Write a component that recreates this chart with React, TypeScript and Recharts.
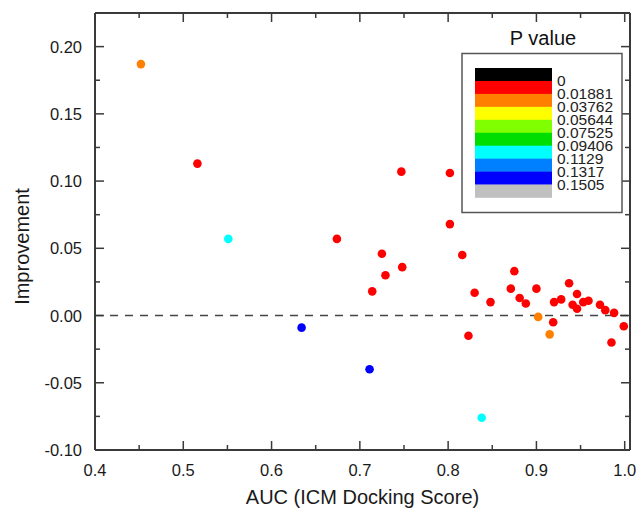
import { ScatterChart, Scatter, XAxis, YAxis, ReferenceLine } from 'recharts';

// AUC vs improvement, grouped by P value colour
const redPoints = [
  { auc: 0.516, imp: 0.113 },
  { auc: 0.674, imp: 0.057 },
  { auc: 0.714, imp: 0.018 },
  { auc: 0.725, imp: 0.046 },
  { auc: 0.729, imp: 0.030 },
  { auc: 0.747, imp: 0.107 },
  { auc: 0.748, imp: 0.036 },
  { auc: 0.802, imp: 0.106 },
  { auc: 0.802, imp: 0.068 },
  { auc: 0.816, imp: 0.045 },
  { auc: 0.823, imp: -0.015 },
  { auc: 0.830, imp: 0.017 },
  { auc: 0.848, imp: 0.010 },
  { auc: 0.871, imp: 0.020 },
  { auc: 0.875, imp: 0.033 },
  { auc: 0.881, imp: 0.013 },
  { auc: 0.888, imp: 0.009 },
  { auc: 0.900, imp: 0.020 },
  { auc: 0.919, imp: -0.005 },
  { auc: 0.920, imp: 0.010 },
  { auc: 0.928, imp: 0.012 },
  { auc: 0.937, imp: 0.024 },
  { auc: 0.941, imp: 0.008 },
  { auc: 0.946, imp: 0.016 },
  { auc: 0.946, imp: 0.005 },
  { auc: 0.953, imp: 0.010 },
  { auc: 0.959, imp: 0.011 },
  { auc: 0.972, imp: 0.008 },
  { auc: 0.978, imp: 0.004 },
  { auc: 0.985, imp: -0.020 },
  { auc: 0.988, imp: 0.002 },
  { auc: 0.999, imp: -0.008 },
];
const orangePoints = [
  { auc: 0.452, imp: 0.187 },
  { auc: 0.902, imp: -0.001 },
  { auc: 0.915, imp: -0.014 },
];
const cyanPoints = [
  { auc: 0.551, imp: 0.057 },
  { auc: 0.838, imp: -0.076 },
];
const bluePoints = [
  { auc: 0.634, imp: -0.009 },
  { auc: 0.711, imp: -0.040 },
];

const xTicks = [0.4, 0.45, 0.5, 0.55, 0.6, 0.65, 0.7, 0.75, 0.8, 0.85, 0.9, 0.95, 1.0];
const yTicks = [-0.1, -0.075, -0.05, -0.025, 0, 0.025, 0.05, 0.075, 0.1, 0.125, 0.15, 0.175, 0.2];

const legendColors = ['#000000', '#ff0000', '#ff8000', '#ffff00', '#80ff00', '#00dd00', '#00ffff', '#0080ff', '#0000ff', '#c0c0c0'];
const legendLabels = ['0', '0.01881', '0.03762', '0.05644', '0.07525', '0.09406', '0.1129', '0.1317', '0.1505'];

const FONT = '"Liberation Sans", Arial, sans-serif';
const AXIS = '#3a3a3a';
const X_DOMAIN = [0.4, 1.006];
const Y_DOMAIN = [-0.1, 0.225];

const isMajor = (v: number, step: number) => Math.abs(v / step - Math.round(v / step)) < 1e-6;

const BottomTick = ({ x, y, payload }: any) => {
  const major = isMajor(payload.value, 0.1);
  return (
    <g>
      <line x1={x} y1={y} x2={x} y2={y - (major ? 9 : 5)} stroke={AXIS} strokeWidth={1.5} />
      {major && (
        <text x={x} y={y + 26} textAnchor="middle" fontSize={16.5} fontFamily={FONT} fill="#1a1a1a">
          {payload.value.toFixed(1)}
        </text>
      )}
    </g>
  );
};

const TopTick = ({ x, y, payload }: any) => {
  const major = isMajor(payload.value, 0.1);
  return <line x1={x} y1={y} x2={x} y2={y + (major ? 9 : 5)} stroke={AXIS} strokeWidth={1.5} />;
};

const LeftTick = ({ x, y, payload }: any) => {
  const major = isMajor(payload.value, 0.05);
  return (
    <g>
      <line x1={x} y1={y} x2={x + (major ? 9 : 5)} y2={y} stroke={AXIS} strokeWidth={1.5} />
      {major && (
        <text x={x - 13} y={y + 6} textAnchor="end" fontSize={16.5} fontFamily={FONT} fill="#1a1a1a">
          {payload.value.toFixed(2)}
        </text>
      )}
    </g>
  );
};

const RightTick = ({ x, y, payload }: any) => {
  const major = isMajor(payload.value, 0.05);
  return <line x1={x} y1={y} x2={x - (major ? 9 : 5)} y2={y} stroke={AXIS} strokeWidth={1.5} />;
};

const dot = (color: string) => (props: any) => <circle cx={props.cx} cy={props.cy} r={4.3} fill={color} />;

function PLegend() {
  const top = 68;
  const row = 12.95;
  return (
    <svg width={639} height={514} style={{ position: 'absolute', left: 0, top: 0, pointerEvents: 'none' }}>
      <text x={543} y={45} textAnchor="middle" fontSize={20} fontFamily={FONT} fill="#111">P value</text>
      <rect x={462} y={53.5} width={160} height={159} fill="#fff" stroke="#555" strokeWidth={1.5} />
      {legendColors.map((c, i) => (
        <rect key={c} x={475} y={top + i * row} width={77} height={row + 0.3} fill={c} />
      ))}
      {legendLabels.map((l, i) => (
        <text key={l} x={557} y={top + (i + 1) * row + 5} fontSize={15.5} fontFamily={FONT} fill="#222">{l}</text>
      ))}
    </svg>
  );
}

export default function App() {
  return (
    <div style={{ position: 'absolute', left: 0, top: 0, width: 639, height: 514, background: '#fff' }}>
      <ScatterChart width={639} height={514} margin={{ top: 12, right: 8, bottom: 0, left: 0 }}>
        <XAxis
          dataKey="auc"
          type="number"
          domain={X_DOMAIN}
          ticks={xTicks}
          interval={0}
          allowDataOverflow
          height={64}
          tickSize={0}
          tickMargin={0}
          axisLine={{ stroke: AXIS, strokeWidth: 2 }}
          tickLine={false}
          tick={(p: any) => <BottomTick {...p} />}
          label={{
            content: (p: any) => {
              const vb = p.viewBox;
              return (
                <text x={vb.x + vb.width / 2} y={vb.y + 54} textAnchor="middle" fontSize={20} fontFamily={FONT} fill="#1a1a1a">
                  AUC (ICM Docking Score)
                </text>
              );
            },
          }}
        />
        <XAxis
          xAxisId="top"
          dataKey="auc"
          orientation="top"
          type="number"
          domain={X_DOMAIN}
          ticks={xTicks}
          interval={0}
          allowDataOverflow
          height={1}
          tickSize={0}
          tickMargin={0}
          axisLine={{ stroke: AXIS, strokeWidth: 2 }}
          tickLine={false}
          tick={(p: any) => <TopTick {...p} />}
        />
        <YAxis
          dataKey="imp"
          type="number"
          domain={Y_DOMAIN}
          ticks={yTicks}
          interval={0}
          allowDataOverflow
          width={95}
          tickSize={0}
          tickMargin={0}
          axisLine={{ stroke: AXIS, strokeWidth: 2 }}
          tickLine={false}
          tick={(p: any) => <LeftTick {...p} />}
          label={{
            content: (p: any) => {
              const vb = p.viewBox;
              const cx = vb.x + 22;
              const cy = vb.y + vb.height / 2 + 15;
              return (
                <text x={cx} y={cy} transform={`rotate(-90 ${cx} ${cy})`} textAnchor="middle" dominantBaseline="central" fontSize={20} fontFamily={FONT} fill="#1a1a1a">
                  Improvement
                </text>
              );
            },
          }}
        />
        <YAxis
          yAxisId="right"
          dataKey="imp"
          orientation="right"
          type="number"
          domain={Y_DOMAIN}
          ticks={yTicks}
          interval={0}
          allowDataOverflow
          width={1}
          tickSize={0}
          tickMargin={0}
          axisLine={{ stroke: AXIS, strokeWidth: 2 }}
          tickLine={false}
          tick={(p: any) => <RightTick {...p} />}
        />
        <ReferenceLine y={0} stroke="#444" strokeWidth={1.6} strokeDasharray="8 7" />
        <Scatter data={redPoints} isAnimationActive={false} shape={dot('#ff0000')} />
        <Scatter data={orangePoints} isAnimationActive={false} shape={dot('#ff8000')} />
        <Scatter data={cyanPoints} isAnimationActive={false} shape={dot('#00ffff')} />
        <Scatter data={bluePoints} isAnimationActive={false} shape={dot('#0000ff')} />
      </ScatterChart>
      <PLegend />
    </div>
  );
}
